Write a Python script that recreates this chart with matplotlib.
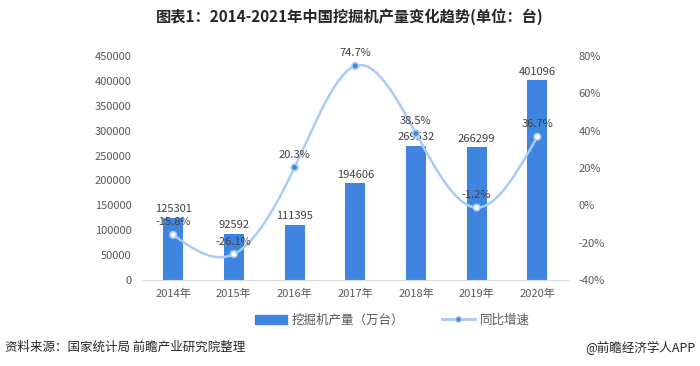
import numpy as np
import matplotlib
matplotlib.use("Agg")
import matplotlib.pyplot as plt
from matplotlib.lines import Line2D
from matplotlib.patches import Patch

plt.rcParams['font.family'] = ['Noto Sans CJK SC', 'DejaVu Sans']

# data
years = ['2014年', '2015年', '2016年', '2017年', '2018年', '2019年', '2020年']
output = [125301, 92592, 111395, 194606, 269532, 266299, 401096]
growth = [-15.8, -26.1, 20.3, 74.7, 38.5, -1.2, 36.7]
left_ticks = [0, 50000, 100000, 150000, 200000, 250000, 300000, 350000, 400000, 450000]
right_ticks = [-40, -20, 0, 20, 40, 60, 80]

bar_color = '#3f85e0'
line_color = '#a9cbf5'
tick_color = '#595959'


def smooth(xs, ys, n=300):
    # natural cubic spline, only used to draw the curved line
    xs = np.asarray(xs, float)
    ys = np.asarray(ys, float)
    k = len(xs)
    h = np.diff(xs)
    A = np.zeros((k, k))
    b = np.zeros(k)
    A[0, 0] = A[-1, -1] = 1
    for i in range(1, k - 1):
        A[i, i - 1] = h[i - 1]
        A[i, i] = 2 * (h[i - 1] + h[i])
        A[i, i + 1] = h[i]
        b[i] = 6 * ((ys[i + 1] - ys[i]) / h[i] - (ys[i] - ys[i - 1]) / h[i - 1])
    m = np.linalg.solve(A, b)
    xx = np.linspace(xs[0], xs[-1], n)
    idx = np.clip(np.searchsorted(xs, xx) - 1, 0, k - 2)
    x0, x1 = xs[idx], xs[idx + 1]
    hh = x1 - x0
    t0, t1 = x1 - xx, xx - x0
    yy = (m[idx] * t0 ** 3 + m[idx + 1] * t1 ** 3) / (6 * hh) \
        + (ys[idx] / hh - m[idx] * hh / 6) * t0 \
        + (ys[idx + 1] / hh - m[idx + 1] * hh / 6) * t1
    return xx, yy


fig = plt.figure(figsize=(7, 3.66), dpi=100)
ax = fig.add_axes([0.204, 0.235, 0.607, 0.612])
ax2 = ax.twinx()

x = np.arange(len(years))
ax.bar(x, output, width=0.33, color=bar_color, zorder=2)
ax.set_ylim(0, 450000)
ax.set_yticks(left_ticks)
ax.set_yticklabels([str(v) for v in left_ticks])
ax.set_xlim(-0.5, len(years) - 0.5)
ax.set_xticks(x)
ax.set_xticklabels(years)
for i, v in enumerate(output):
    ax.text(i, v + 7000, str(v), ha='center', va='bottom', fontsize=8, color='#404040')

xx, yy = smooth(x, growth)
ax2.plot(xx, yy, color=line_color, lw=1.8, zorder=3)
face = ['white' if (g + 40) / 120 * 450000 < o else '#3f85e0' for g, o in zip(growth, output)]
ax2.scatter(x, growth, s=22, facecolors=face, edgecolors=line_color, linewidths=1.2, zorder=4)
ax2.set_ylim(-40, 80)
ax2.set_yticks(right_ticks)
ax2.set_yticklabels([f'{v}%' for v in right_ticks])
for i, g in enumerate(growth):
    ax2.text(i, g + 4, f'{g}%', ha='center', va='bottom', fontsize=8, color='#404040', zorder=5)

for a in (ax, ax2):
    for s in a.spines.values():
        s.set_visible(False)
    a.tick_params(length=0, labelsize=8, colors=tick_color, pad=6)
ax.spines['bottom'].set_visible(True)
ax.spines['bottom'].set_color('#d9d9d9')
ax.tick_params(axis='y', pad=8)
ax2.tick_params(axis='y', pad=8)

handles = [Patch(color=bar_color),
           Line2D([0], [0], color=line_color, lw=2, marker='o', markersize=4,
                  markerfacecolor=bar_color, markeredgecolor=line_color)]
fig.legend(handles, ['挖掘机产量（万台）', '同比增速'], loc='center', bbox_to_anchor=(0.56, 0.125),
           ncol=2, frameon=False, fontsize=9, handlelength=2.6, columnspacing=3,
           labelcolor='#595959', handletextpad=0.4)

fig.text(0.5, 0.955, '图表1：2014-2021年中国挖掘机产量变化趋势(单位：台)', ha='center', va='center',
         fontsize=11, fontweight='bold', color='#262626')
fig.text(0.007, 0.05, '资料来源：国家统计局 前瞻产业研究院整理', ha='left', va='center',
         fontsize=9, color='#262626')
fig.text(0.993, 0.05, '@前瞻经济学人APP', ha='right', va='center', fontsize=9, color='#262626')

fig.savefig('out.png', dpi=100)
